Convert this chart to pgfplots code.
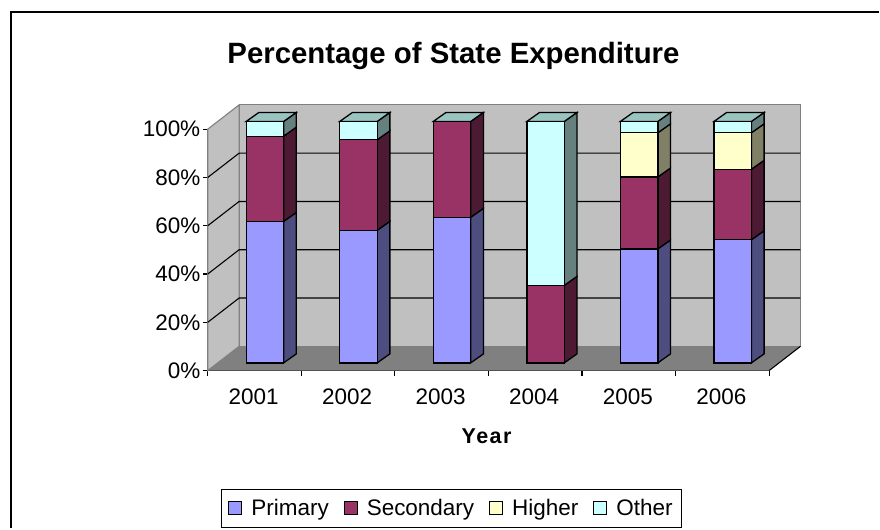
\documentclass[border=0pt]{standalone}
\usepackage{pgfplots}
\usepackage{pgfplotstable}
\usepackage{fontspec}
\setmainfont{Liberation Sans}
\pgfplotsset{compat=1.18}
\definecolor{cP}{HTML}{9999FF}\definecolor{cS}{HTML}{993366}\definecolor{cH}{HTML}{FFFFCC}\definecolor{cO}{HTML}{CCFFFF}
\definecolor{sP}{HTML}{4D4D80}\definecolor{sS}{HTML}{4D1A33}\definecolor{sH}{HTML}{808066}\definecolor{sO}{HTML}{668080}
\definecolor{tO}{HTML}{99C4C0}
\definecolor{wall}{HTML}{C0C0C0}\definecolor{floorc}{HTML}{808080}
\pgfplotstableread{
x    base primary secondary higher other
0.5  3.2  58.6    35.3      0      6.1
1.5  3.2  54.9    37.5      0      7.6
2.5  3.2  60.3    39.7      0      0
3.5  3.2  0       32.1      0      67.9
4.5  3.2  47.2    29.8      18.3   4.7
5.5  3.2  51.0    29.2      15.1   4.7
}\datatable
\pgfplotsset{frontbar/.style={ybar stacked,bar width=37.5pt,bar shift=10.4pt,draw=black,line width=1.3pt,
  legend image code/.code={\draw[##1,line width=1pt,draw=black] (0pt,-6.5pt) rectangle (13pt,6.5pt);}}}
% side face of one bar segment: bar number, from, to, colour
\newcommand\seg[4]{%
  \pgfmathsetmacro\xa{#1+0.5+0.111+0.2}%
  \pgfmathsetmacro\xb{\xa+0.1356}%
  \pgfmathsetmacro\ya{3.2+#2}%
  \pgfmathsetmacro\yb{3.2+#2+3.72}%
  \pgfmathsetmacro\yc{3.2+#3+3.72}%
  \pgfmathsetmacro\yd{3.2+#3}%
  \addplot[forget plot,fill=#4,draw=black,line width=1.3pt] coordinates {(\xa,\ya) (\xb,\yb) (\xb,\yc) (\xa,\yd)} --cycle;%
}
\newcommand\topface[1]{%
  \pgfmathsetmacro\xa{#1+0.5+0.111-0.2}%
  \pgfmathsetmacro\xb{#1+0.5+0.111+0.2}%
  \pgfmathsetmacro\xc{\xb+0.1356}%
  \pgfmathsetmacro\xd{\xa+0.1356}%
  \addplot[forget plot,fill=tO,draw=black,line width=1.3pt] coordinates {(\xa,103.2) (\xb,103.2) (\xc,106.92) (\xd,106.92)} --cycle;%
}
\begin{document}
\begin{tikzpicture}[x=1pt,y=1pt]
\path[fill=white] (0,0) rectangle (880,529);
\begin{axis}[
  at={(208pt,158pt)},anchor=south west,
  scale only axis,width=562pt,height=241.7pt,
  xmin=0,xmax=6,ymin=0,ymax=100,clip=false,
  axis x line*=bottom,axis y line*=left,axis line style={-,black,line width=1.2pt},
  xtick={0,1,2,3,4,5,6},x tick label as interval,
  xticklabels={2001,2002,2003,2004,2005,2006},
  ytick={0,20,40,60,80,100},
  yticklabels={0\%,20\%,40\%,60\%,80\%,100\%},
  tick align=outside,major tick length=5pt,tick style={black,line width=1.2pt},
  tick label style={font=\fontsize{22.5}{24}\selectfont},
  x tick label style={yshift=-10pt,xshift=-1pt},
  y tick label style={xshift=1pt},
  title={\textbf{Percentage of State Expenditure}},
  title style={at={(axis description cs:0.4377,1.279)},anchor=center,yshift=0pt,font=\fontsize{29.4}{32}\selectfont},
  xlabel={\addfontfeature{LetterSpace=7}\textbf{Year}},
  xlabel style={at={(axis description cs:0.498,-0.273)},anchor=center,font=\fontsize{21.5}{24}\selectfont},
  legend columns=4,
  legend style={at={(axis cs:2.605,-57.1)},anchor=center,draw=black,line width=1pt,
    font=\fontsize{22.5}{24}\selectfont,inner xsep=7pt,inner ysep=8pt,
    /tikz/every odd column/.append style={column sep=7pt},
    /tikz/every even column/.append style={column sep=13pt}},
]
% floor and walls
\addplot[forget plot,fill=floorc,draw=none] coordinates {(0,0) (6,0) (6.335,10.05) (0.335,10.05)} --cycle;
\addplot[forget plot,fill=wall,draw=floorc,line width=1.1pt] coordinates {(0.335,10.05) (6.335,10.05) (6.335,110.05) (0.335,110.05)} --cycle;
\addplot[forget plot,fill=wall,draw=floorc,line width=1.1pt] coordinates {(0,0) (0.335,10.05) (0.335,110.05) (0,100)} --cycle;
% grid
\addplot[forget plot,black,line width=1.1pt] coordinates {(0,20) (0.335,30.05) (6.335,30.05)};
\addplot[forget plot,black,line width=1.1pt] coordinates {(0,40) (0.335,50.05) (6.335,50.05)};
\addplot[forget plot,black,line width=1.1pt] coordinates {(0,60) (0.335,70.05) (6.335,70.05)};
\addplot[forget plot,black,line width=1.1pt] coordinates {(0,80) (0.335,90.05) (6.335,90.05)};
\addplot[forget plot,black,line width=1.1pt] coordinates {(6,0) (6.335,10.05)};
% side faces
\seg{0}{0}{58.6}{sP}\seg{0}{58.6}{93.9}{sS}\seg{0}{93.9}{100}{sO}
\seg{1}{0}{54.9}{sP}\seg{1}{54.9}{92.4}{sS}\seg{1}{92.4}{100}{sO}
\seg{2}{0}{60.3}{sP}\seg{2}{60.3}{100}{sS}
\seg{3}{0}{32.1}{sS}\seg{3}{32.1}{100}{sO}
\seg{4}{0}{47.2}{sP}\seg{4}{47.2}{77}{sS}\seg{4}{77}{95.3}{sH}\seg{4}{95.3}{100}{sO}
\seg{5}{0}{51}{sP}\seg{5}{51}{80.2}{sS}\seg{5}{80.2}{95.3}{sH}\seg{5}{95.3}{100}{sO}
\topface{0}\topface{1}\topface{2}\topface{3}\topface{4}\topface{5}
% front faces
\addplot[forget plot,ybar stacked,bar width=37.5pt,bar shift=10.4pt,draw=none,fill=none] table[x=x,y=base] {\datatable};
\addplot[frontbar,fill=cP] table[x=x,y=primary] {\datatable};
\addplot[frontbar,fill=cS] table[x=x,y=secondary] {\datatable};
\addplot[frontbar,fill=cH] table[x=x,y=higher] {\datatable};
\addplot[frontbar,fill=cO] table[x=x,y=other] {\datatable};
\legend{Primary,Secondary,Higher,Other}
\end{axis}
\draw[black,line width=2pt] (11,0) -- (11,517) -- (880,517);
\end{tikzpicture}
\end{document}
